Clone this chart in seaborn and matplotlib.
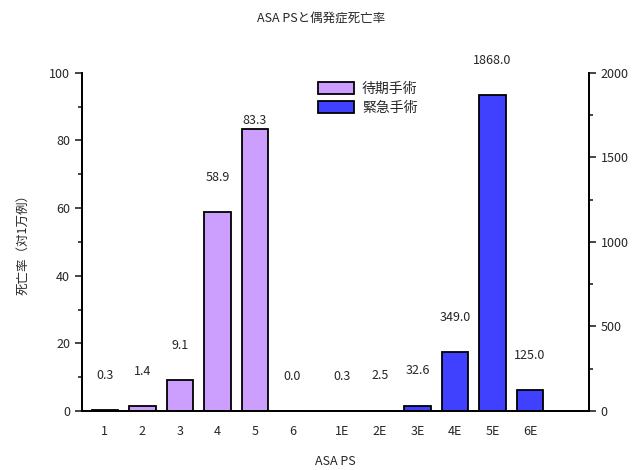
import matplotlib
matplotlib.use("Agg")
import matplotlib.pyplot as plt
from matplotlib.ticker import MultipleLocator
from matplotlib.patches import Patch
import seaborn as sns
import pandas as pd
import numpy as np

sns.set_style("white")
plt.rcParams['font.family'] = ['Noto Sans CJK JP', 'DejaVu Sans']

# ---- data ----
elective_labels = ["1", "2", "3", "4", "5", "6"]
elective_rates = [0.3, 1.4, 9.1, 58.9, 83.3, 0.0]
emergency_labels = ["1E", "2E", "3E", "4E", "5E", "6E"]
emergency_rates = [0.3, 2.5, 32.6, 349.0, 1868.0, 125.0]

purple = "#CC9FFF"
blue = "#4040FF"

# elective at 0..5, emergency after a small gap
pos_el = np.arange(len(elective_labels), dtype=float)
pos_em = np.arange(len(emergency_labels)) + len(elective_labels) + 0.33

df_el = pd.DataFrame({"x": pos_el, "rate": elective_rates})
df_em = pd.DataFrame({"x": pos_em, "rate": emergency_rates})

fig = plt.figure(figsize=(6.43, 4.70), dpi=100)
ax = fig.add_axes([0.1275, 0.1255, 0.7885, 0.7195])
ax2 = ax.twinx()

sns.barplot(data=df_el, x="x", y="rate", native_scale=True, width=0.7,
            color=purple, edgecolor="black", linewidth=1.3, saturation=1, ax=ax)
sns.barplot(data=df_em, x="x", y="rate", native_scale=True, width=0.7,
            color=blue, edgecolor="black", linewidth=1.3, saturation=1, ax=ax2)

ax.set_xlim(-0.61, 12.9)
ax2.set_xlim(-0.61, 12.9)
ax.set_ylim(0, 100)
ax2.set_ylim(0, 2000)

# value labels ~35px above bar tops
for x, v in zip(pos_el, elective_rates):
    off = 25 if v < 80 else 6   # 83.3 sits low, under the legend
    ax.annotate(f"{v:.1f}", (x, v), xytext=(0, off), textcoords="offset points",
                ha="center", va="center", fontsize=9)
for x, v in zip(pos_em, emergency_rates):
    ax2.annotate(f"{v:.1f}", (x, v), xytext=(0, 25), textcoords="offset points",
                 ha="center", va="center", fontsize=9, annotation_clip=False)

ax.set_xticks(np.concatenate([pos_el, pos_em]))
ax.set_xticklabels(elective_labels + emergency_labels, fontsize=9)
ax.tick_params(axis="x", length=0, pad=10)

ax.yaxis.set_major_locator(MultipleLocator(20))
ax.yaxis.set_minor_locator(MultipleLocator(10))
ax2.yaxis.set_major_locator(MultipleLocator(500))
ax2.yaxis.set_minor_locator(MultipleLocator(250))
for a in (ax, ax2):
    a.tick_params(axis="y", which="major", length=5, width=1.2, labelsize=9, direction="out")
    a.tick_params(axis="y", which="minor", length=3, width=1.2, direction="out")
    a.spines["top"].set_visible(False)
    for s in ("left", "right", "bottom"):
        a.spines[s].set_linewidth(1.3)
        a.spines[s].set_color("black")
ax.tick_params(axis="y", which="both", left=True)
ax2.tick_params(axis="y", which="both", right=True)

ax.set_xlabel("ASA PS", fontsize=9, labelpad=12)
ax.set_ylabel("死亡率（対1万例）", fontsize=9, labelpad=14)
ax2.set_ylabel("")
ax2.set_xlabel("")
fig.suptitle("ASA PSと偶発症死亡率", fontsize=9, y=0.975)

handles = [Patch(facecolor=purple, edgecolor="black", linewidth=1.3, label="待期手術"),
           Patch(facecolor=blue, edgecolor="black", linewidth=1.3, label="緊急手術")]
ax2.legend(handles=handles, loc="upper left", bbox_to_anchor=(0.44, 1.01),
           frameon=False, fontsize=10, handlelength=2.6, handleheight=1.0,
           labelspacing=0.35, handletextpad=0.6)

fig.savefig("out.png", dpi=100)
